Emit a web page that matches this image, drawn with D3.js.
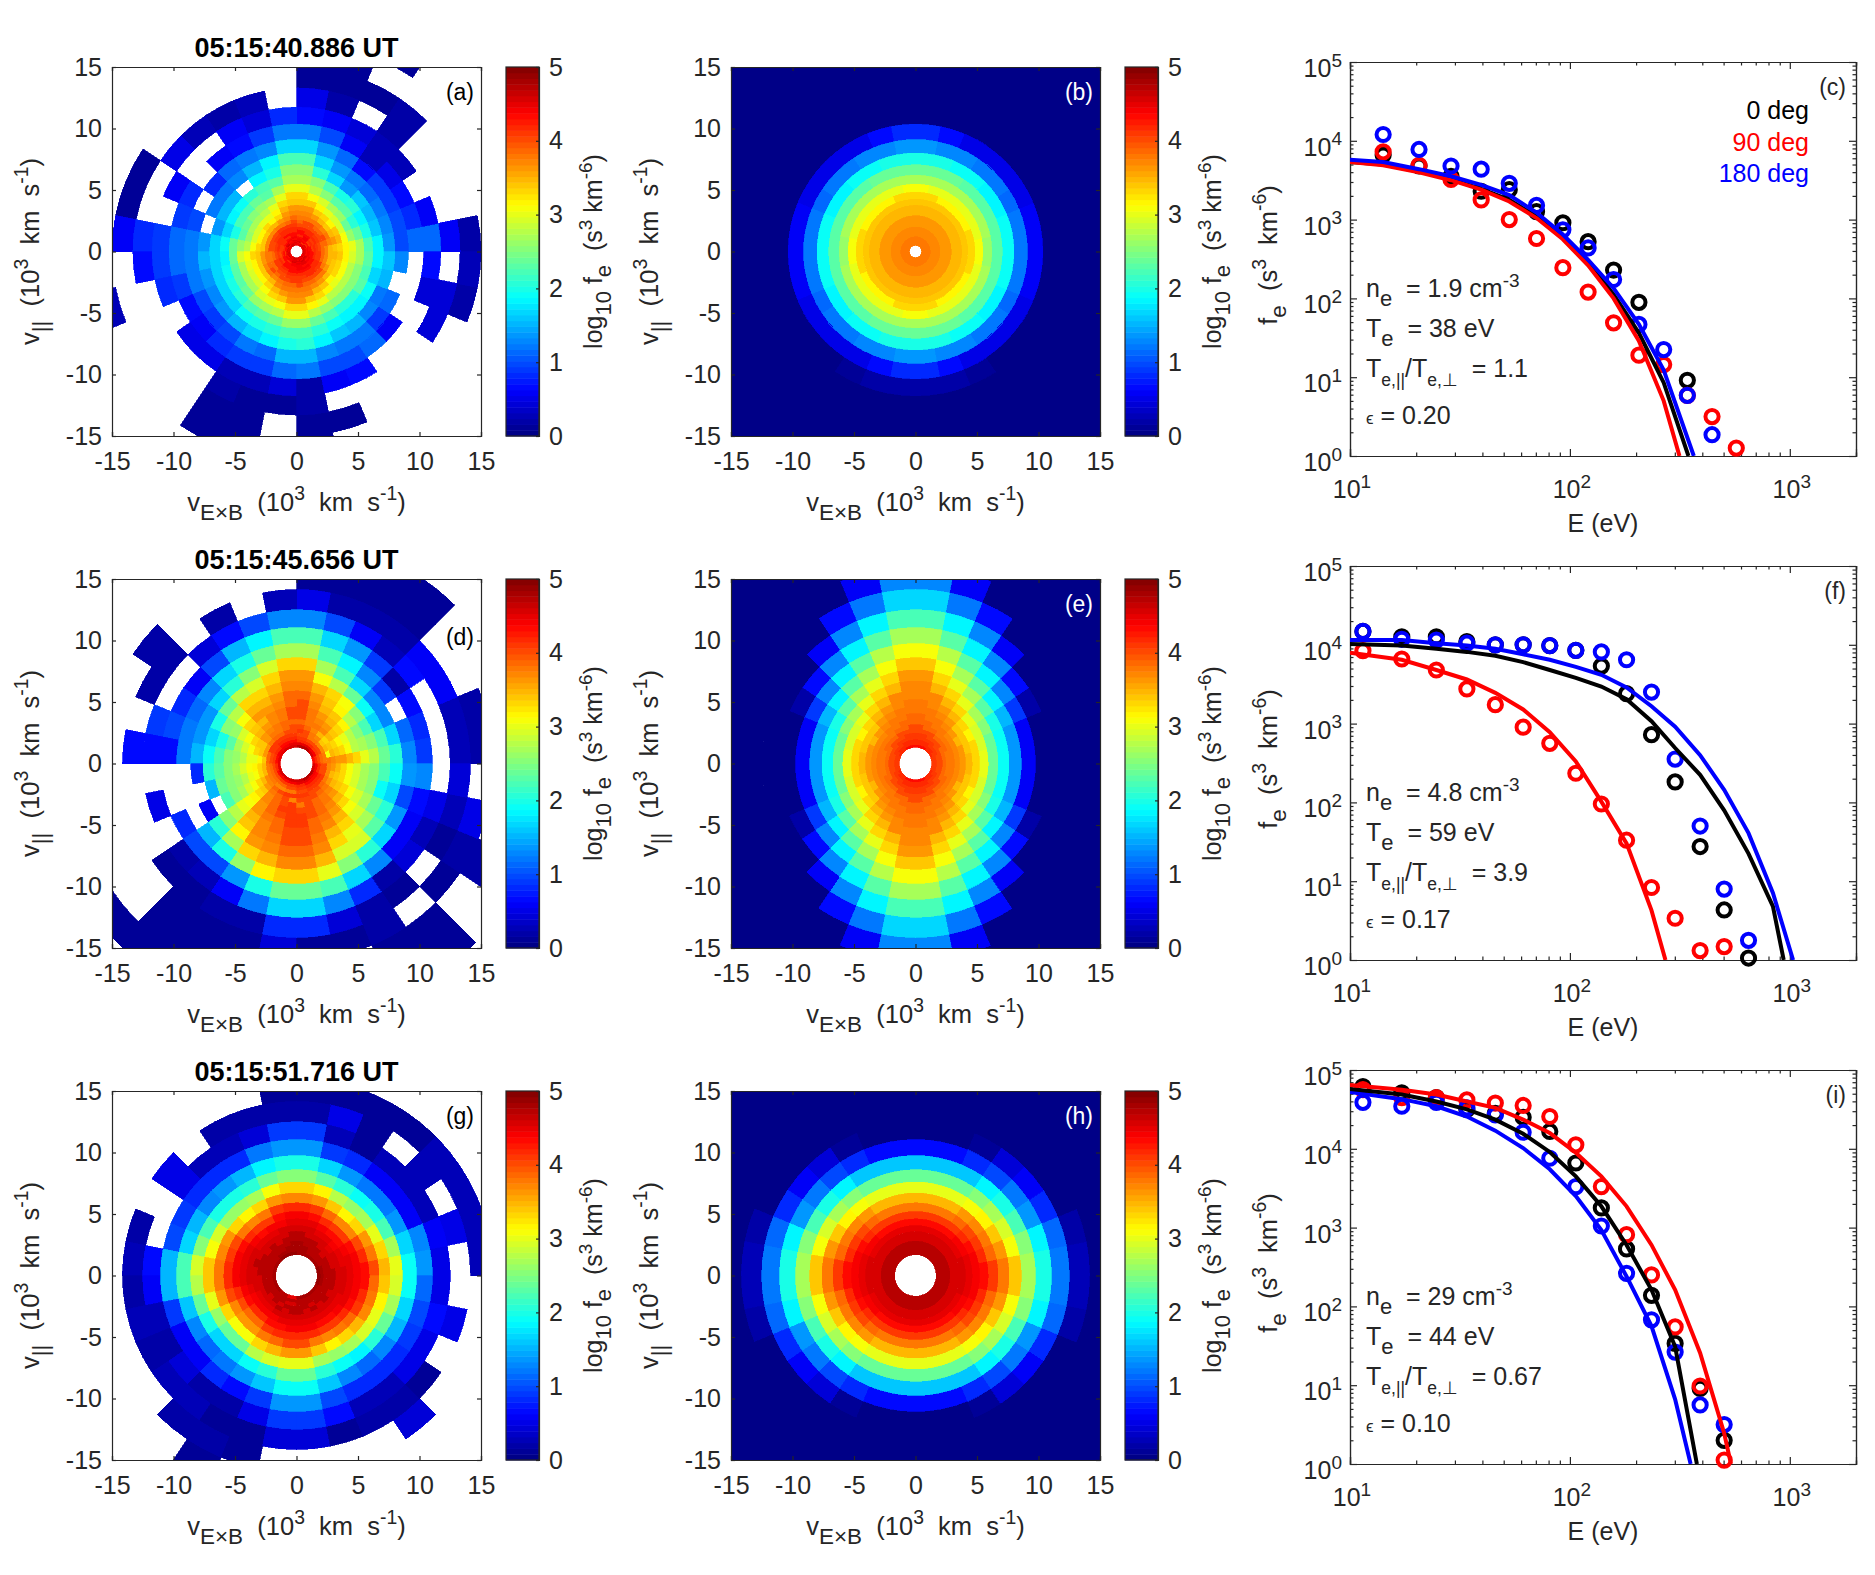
<!DOCTYPE html>
<html>
<head>
<meta charset="utf-8">
<script src="https://cdnjs.cloudflare.com/ajax/libs/d3/7.8.5/d3.min.js"></script>
<style>
body { margin: 0; background: #fff; }
text { font-family: "Liberation Sans", Arial, sans-serif; fill: #262626; white-space: pre; }
.axis path, .axis line { stroke: #262626; stroke-width: 1.2px; }
.axis text { font-size: 25px; fill: #262626; }
</style>
</head>
<body>
<div id="chart"></div>
<script>
const _ = null;

// ring edges of the energy table, in 10^3 km/s
const edgesA = [21.9,19.3,17,15,13.3,11.73,10.35,9.1,8,7.05,6.2,5.47,4.82,4.25,3.75,3.3,2.91,2.56,2.26,1.99,1.75,1.54,1.36,1.2,1.06,.93,.82,.72,.64,.56,.5];
const edgesB = [23.4,20.6,18.2,16,14.15,12.5,11.05,9.75,8.6,7.6,6.7,5.9,5.2,4.6,4.06,3.58,3.16,2.79,2.46,2.17,1.92,1.69,1.49,1.32];

// log10 f times ten. one row per ring, first sector starts at +x and goes counter clockwise
const cellsA = [
[_],
[_,_,_,_,_,1,_,_,_,_,_,_,_,_,_,_,_,_,_,_,_,_,_,_,_,_,_,_,_,_,_,_],
[_,_,_,_,_,_,1,1,_,_,_,_,_,_,_,_,_,3,_,_,_,1,1,_,1,_,_,_,_,_,_,_],
[2,_,_,_,2,1,1,1,_,_,_,_,_,1,1,6,_,_,_,_,_,1,1,_,1,1,_,_,_,_,2,3],
[6,_,_,_,2,_,2,5,_,3,2,3,5,_,_,8,7,_,_,_,_,2,1,1,2,_,_,_,_,4,4,_],
[11,6,_,3,3,4,6,7,8,4,6,_,_,6,_,9,9,8,_,5,5,3,3,4,2,6,7,_,_,_,4,7],
[11,8,7,5,3,6,10,12,12,9,7,6,_,8,9,11,11,9,7,6,8,9,9,11,12,10,10,11,6,_,_,_],
[10,10,9,9,7,11,14,17,17,13,12,11,8,_,10,12,12,12,10,9,10,12,11,15,15,13,12,12,9,11,_,13],
[14,13,12,11,12,14,17,22,22,18,15,13,12,12,_,14,15,14,13,14,15,17,18,20,21,18,16,15,13,12,15,16],
[18,16,15,16,14,17,21,25,25,20,18,_,15,15,14,17,17,17,17,17,19,20,21,22,22,21,19,18,18,19,17,18],
[22,20,18,21,20,22,25,27,27,23,22,21,19,18,17,19,18,19,20,21,22,23,24,26,26,24,22,21,21,23,22,23],
[27,24,21,23,23,25,28,30,30,27,23,24,22,22,20,24,24,23,23,24,26,27,28,30,30,28,26,25,25,25,25,27],
[30,26,24,26,27,29,31,33,33,30,27,26,25,24,23,26,29,27,27,27,29,30,31,33,33,32,30,28,28,28,28,29],
[32,31,29,29,30,32,34,34,34,33,30,28,27,27,26,28,31,30,29,29,31,33,34,36,36,34,33,32,30,31,31,32],
[33,35,34,32,33,34,36,36,36,35,32,30,30,29,29,31,33,32,32,32,33,35,36,37,37,37,35,34,32,33,33,34],
[34,36,35,34,35,36,37,37,37,36,33,32,33,32,32,33,34,34,34,34,35,37,38,38,38,38,37,36,35,34,34,35],
[35,37,38,37,38,38,38,38,39,37,36,35,35,34,34,34,36,36,37,38,37,38,39,39,40,39,39,38,38,36,35,35],
[37,39,40,39,39,40,40,39,40,39,38,38,37,37,37,37,38,38,39,40,39,40,40,41,41,40,40,40,40,38,37,37],
[39,40,40,40,41,41,40,40,38,39,40,41,41,42,41,39],
[40,41,42,42,42,42,41,40,39,41,41,42,42,42,42,41],
[41,42,42,43,42,42,42,41,40,41,42,43,43,43,42,41],
[42,41,43,43,43,43,42,42,41,42,43,43,44,44,43,42],
[41,42,44,42,43,42,42,41,40,41,43,43,44,43,43,43],
[43,41,44,43,44,43,42,41,42,43,43,44,44,45,44,43],
[43,43,43,44,43,44,43,42,43,43,42,44,45,45,43,44],
[44,42,44,44,45,43,45,43,41,44,44,46,44,46,45,44],
[43,45,42,46,44,44,46,43,45,43,44,45,46,44,46,43],
[45,44,45,43,46,45,43,46,44,46,45,45,43,46,44,45],
[45,46,44,45,44,46,45,44,46,45,44,46,45,44,46,45],
[46,45,46,44,45,46,44,45,46,44,45,46,46,45,44,46]
];
const cellsB = [
[0],[0],[0],[0],[0],
[0,0,0,0,0,0,0,0,0,0,0,0,0,0,0,0,0,0,0,0,0,1,2,2,2,2,1,0,0,0,0,0],
[6,6,5,5,5,5,7,8],
[12,12,11,12,12,13,13,14],
[19,19,18,18,19,19,20,20],
[23,23,23,23,23,24,24,24],
[26,27,27,27,27,27,27,27],
[31,30,30,30,30,30,30,31],
[33,33,32,32,32,32,33,33],
[34],[35],[35],[36],[36],[36],[37],[37],[37],[37],[38],[38],[38],[38],[38],[38],[38]
];
const cellsD = [
[_],
[_,_,_,_,_,_,_,_,_,_,_,_,_,_,_,_,_,_,_,1,1,1,_,_,_,_,_,1,_,_,_,_],
[_,_,_,_,1,1,1,_,_,_,_,_,_,_,_,_,_,_,_,_,1,1,1,_,_,_,1,1,_,2,_,_],
[2,2,_,_,1,1,1,1,_,_,_,_,2,_,_,_,_,_,_,_,1,1,1,4,1,1,2,_,1,2,5,_],
[3,3,6,6,2,2,2,5,3,_,2,_,2,2,_,7,_,_,_,1,1,2,2,8,8,4,2,1,_,1,3,4],
[_,_,_,7,3,6,10,13,13,10,7,4,_,_,9,7,_,5,_,2,3,6,12,17,17,13,8,2,4,3,5,_],
[9,8,7,2,9,14,17,22,22,18,15,10,6,8,10,7,_,_,8,10,10,14,20,24,24,22,17,13,6,6,7,13],
[13,11,_,9,13,18,22,27,27,24,20,17,13,11,12,12,_,_,_,15,20,26,32,33,33,30,25,21,17,14,10,14],
[21,17,13,13,17,22,27,33,33,29,25,21,17,14,14,15,8,_,6,21,27,33,35,37,37,35,29,29,23,21,17,19],
[24,22,17,19,24,28,31,36,36,33,29,28,24,20,17,19,21,15,_,25,32,36,37,39,39,37,33,30,27,24,19,22],
[28,25,22,25,31,33,35,37,37,35,33,33,28,25,20,22,23,24,22,28,34,37,38,40,40,38,35,33,29,27,25,25],
[30,27,25,28,32,34,36,39,39,36,35,35,31,26,23,25,25,25,25,30,35,37,39,40,40,39,37,35,31,29,27,27],
[33,28,28,32,34,35,37,40,39,37,36,36,33,29,27,26,27,26,27,31,36,38,39,41,41,39,38,36,33,31,29,29],
[35,31,30,33,35,36,38,40,40,38,37,35,34,31,29,28,29,28,29,32,36,39,40,41,41,40,39,37,35,33,31,31],
[36,33,32,34,36,37,38,40,40,38,37,36,35,33,31,30,31,30,31,33,37,39,41,41,40,40,39,38,36,34,33,33],
[36,34,33,35,37,38,38,39,39,39,38,37,36,34,33,30,32,31,33,34,37,39,40,41,38,40,39,38,37,35,34,35],
[37,35,34,33,35,37,39,40,40,39,38,38,36,34,34,32,33,33,35,36,38,39,40,37,40,40,40,39,38,36,35,36],
[38,31,35,34,37,38,40,41,40,40,39,39,38,36,36,34,35,35,37,37,39,40,41,41,41,41,40,40,39,38,37,37],
[38,37,38,40,41,41,41,39,38,38,37,38,40,41,41,40],
[39,40,40,41,42,42,41,40,39,39,39,40,41,42,42,40],
[40,41,42,42,43,43,42,41,40,40,41,41,42,43,43,42],
[42,44,45,45,45,44,44,43,42,43,43,44,45,45,44,44],
[43,46,47,47,46,46,45,45,45,46,46,46,46,47,47,46]
];
const cellsE = [
[0],[0],[0],
[0,0,0,0,0,0,6,13],
[0,0,0,0,0,7,12,17],
[0,0,0,0,6,13,18,22],
[0,0,2,7,13,18,23,27],
[6,6,9,13,18,23,28,31],
[14,14,15,18,23,27,31,34],
[19,19,20,23,27,30,33,36],
[24,24,25,27,30,33,35,37],
[30,29,29,30,33,35,37,37],
[33,33,32,33,35,36,37,38],
[35,34,34,34,36,37,38,38],
[36,36,35,36,37,38,38,39],
[37,37,37,37,38,38,39,39],
[38,38,38,38,38,39,39,40],
[38,38,39,39,39,40,40,40],
[39,39,39,40,40,40,41,41],
[40,40,40,40,41,41,41,41],
[40,40,41,41,41,42,42,42],
[41,41,41,42,42,42,42,42],
[41,41,42,42,42,43,43,43]
];
const cellsG = [
[_],[_],
[_,_,_,_,_,_,_,_,_,_,_,_,_,_,_,_,_,_,_,_,_,1,_,_,_,_,_,_,_,_,_,_],
[3,3,3,3,1,1,1,1,1,_,_,_,_,_,_,_,_,_,_,_,2,2,1,_,_,_,_,4,_,_,_,_],
[_,5,_,3,_,1,5,2,2,2,2,_,5,_,2,3,2,3,2,3,3,1,1,4,4,1,2,2,1,_,5,_],
[5,6,3,3,3,1,3,9,9,4,3,3,5,_,_,7,6,3,2,4,2,2,5,9,9,7,3,3,5,5,7,5],
[14,13,6,6,6,8,9,14,14,12,8,8,8,9,10,15,15,9,6,6,8,7,9,14,14,10,8,8,8,9,10,11],
[19,17,14,12,12,14,17,20,20,18,15,14,13,15,17,22,22,16,13,11,12,14,16,19,19,16,13,11,13,15,17,19],
[30,27,22,20,19,21,23,25,25,24,21,20,20,22,25,29,28,24,20,17,17,19,21,24,24,21,19,18,21,24,27,29],
[35,33,30,27,26,28,32,33,33,31,27,26,26,29,31,34,34,30,26,24,24,28,29,30,30,27,26,27,29,30,32,34],
[40,38,36,33,32,34,36,37,37,36,33,32,33,36,37,38,38,36,33,31,31,33,35,36,36,34,32,33,35,37,38,39],
[43,42,40,37,37,39,41,42,42,41,38,37,38,40,41,42,42,40,37,36,36,38,39,40,40,38,37,38,39,41,42,43],
[44,44,43,41,41,42,43,44,44,43,41,41,42,43,44,44,44,42,40,39,39,41,42,42,42,42,41,41,42,43,44,44],
[45,45,44,43,43,44,45,45,45,44,44,43,44,45,45,45,45,44,43,42,42,43,43,44,44,44,43,43,44,45,45,45],
[46,45,45,44,45,45,46,46,46,46,45,45,45,46,46,46,46,45,44,44,44,44,45,45,45,45,45,45,45,45,46,46],
[46,46,46,45,46,46,46,47,47,46,46,46,46,46,47,46,46,46,45,45,45,46,46,46,46,46,46,46,46,46,46,46],
[47,46,46,46,46,47,47,47,47,47,46,47,46,47,47,47,46,46,46,46,46,47,46,47,47,46,47,46,47,46,47,47],
[47,47,47,46,47,47,47,48,48,47,47,47,47,47,47,47,47,47,47,46,47,46,47,47,47,47,46,47,47,47,47,47],
[47,47,47,48,48,47,47,47,47,47,47,46,47,47,47,47],
[48,47,47,48,48,48,47,47,47,47,47,47,47,47,47,48],
[49,48,48,48,49,49,48,48,48,48,47,45,48,48,48,49]
];
const cellsH = [
[0],[0],[0],[0],
[3,2,0,0,0,0,0,0],
[12,11,8,6,4,1,0,0],
[20,18,14,12,10,8,7,7],
[27,25,22,20,18,16,16,16],
[34,31,29,27,25,24,24,24],
[38,36,34,32,31,30,30,30],
[41,39,38,37,36,35,35,35],
[43,42,41,40,39,38,38,38],
[44,44,43,42,41,41,41,41],
[45,45,44,44,43,43,43,43],
[46,46,45,45,45,45,45,45],
[46],[46],[47],[47],[47],[47]
];

// spectra: energies in eV, log10 f for the three pitch angles
const energyC = [14.15,20.6,28.8,39.5,53,70.5,92.9,121,158,206,267,342,443,571];
const pointsC = {
  black: [[14.15,3.82],[20.6,3.68],[28.8,3.55],[39.5,3.36],[53,3.38],[70.5,3.1],[92.9,2.96],[121,2.72],[158,2.36],[206,1.95],[342,.96]],
  red: [3.86,3.69,3.51,3.25,3,2.76,2.39,2.08,1.69,1.28,1.16,.77,.5,.1],
  blue: [4.08,3.89,3.68,3.64,3.46,3.18,2.87,2.64,2.24,1.67,1.35,.77,.27]
};
const lineEnergyC = [10,14.15,20.6,28.8,39.5,53,70.5,92.9,121,158,206,267];
const linesC = {
  black: {e: [...lineEnergyC,346], f: [3.73,3.7,3.61,3.51,3.39,3.25,3.04,2.77,2.45,2.05,1.56,.93,0]},
  red: {e: [...lineEnergyC,315], f: [3.73,3.69,3.6,3.5,3.38,3.23,3.02,2.75,2.42,2,1.46,.7,0]},
  blue: {e: [...lineEnergyC,366], f: [3.76,3.73,3.64,3.55,3.44,3.31,3.09,2.81,2.49,2.13,1.67,1.09,0]}
};
const energyF = [11.45,17.2,24.7,34,45.8,61.3,81,106.4,139,181,235,301,391,503,649];
const pointsF = {
  black: [4.17,4.1,4.1,4.04,4,4,3.99,3.93,3.73,3.38,2.86,2.26,1.44,.635,.025],
  red: [3.925,3.82,3.68,3.44,3.24,2.955,2.75,2.37,1.98,1.52,.92,.53,.12,.17],
  blue: [4.17,4.07,4.06,4.02,4,4,3.99,3.93,3.91,3.81,3.4,2.55,1.7,.9,.25]
};
const lineEnergyF = [10,17.2,24.7,34,45.8,61.3,81,106.4,139,181,235,301,391,503,649,838];
const linesF = {
  black: {e: [...lineEnergyF,938], f: [4.01,3.99,3.95,3.91,3.86,3.78,3.68,3.58,3.47,3.31,3.03,2.69,2.35,1.9,1.35,.68,0]},
  blue: {e: [...lineEnergyF,1035], f: [4.06,4.06,4.02,3.99,3.95,3.88,3.81,3.72,3.62,3.46,3.22,2.96,2.6,2.16,1.61,.85,0]},
  red: {e: [10,17.2,24.7,34,45.8,61.3,81,106.4,139,181,235,272], f: [3.9,3.81,3.68,3.56,3.39,3.18,2.89,2.52,2.01,1.48,.63,0]}
};
const energyI = [11.45,17.2,24.7,34,45.8,61.3,81,106.4,139,181,235,301,391,503];
const pointsI = {
  black: [4.79,4.71,4.65,4.5,4.45,4.4,4.22,3.82,3.25,2.73,2.14,1.53,.96,.3],
  red: [4.75,4.65,4.65,4.62,4.58,4.55,4.41,4.05,3.52,2.91,2.4,1.74,.99,.05],
  blue: [4.59,4.54,4.59,4.52,4.43,4.21,3.88,3.52,3.02,2.42,1.83,1.42,.75,.5]
};
const lineEnergyI = [10,17.2,24.7,34,45.8,61.3,81,106.4,139,181,235,301];
const linesI = {
  black: {e: [...lineEnergyI,378], f: [4.76,4.69,4.6,4.5,4.37,4.19,3.96,3.65,3.27,2.78,2.21,1.49,0]},
  red: {e: [...lineEnergyI,391,503,540], f: [4.81,4.75,4.69,4.6,4.52,4.37,4.2,3.95,3.65,3.27,2.78,2.21,1.41,.39,0]},
  blue: {e: [...lineEnergyI,354], f: [4.72,4.63,4.54,4.41,4.23,4.01,3.74,3.4,2.97,2.38,1.75,.82,0]}
};
const notesC = ["1.9","38","1.1","0.20"];
const notesF = ["4.8","59","3.9","0.17"];
const notesI = ["29","44","0.67","0.10"];
const legendLabels = ["0 deg","90 deg","180 deg"];
const legendColors = ["#000000","#ff0000","#0000ff"];
const timeLabels = ["05:15:40.886 UT","05:15:45.656 UT","05:15:51.716 UT"];
const vTicks = [-15,-10,-5,0,5,10,15];
const cbarTicks = [0,1,2,3,4,5];

const colMain = [112, 731], colBar = 25, polarSize = 369;
const rowTops = [67, 579, 1091], specTops = [62, 566, 1070];
const specLeft = 1350, specWidth = 506, specHeight = 394;

const svg = d3.select("#chart").append("svg")
    .attr("width", 1875)
    .attr("height", 1575);

// matlab jet with 64 levels
function jet(t) {
    let c = s => Math.max(0, Math.min(1, 1.5 - Math.abs(4 * t - s)));
    return d3.rgb(c(3) * 255, c(2) * 255, c(1) * 255).formatHex();
}
const jetLevels = d3.range(64).map(i => jet((i + 0.5) / 64));
const color = d3.scaleQuantize().domain([0, 5]).range(jetLevels);

// text with sub and superscripts
function rich(sel, parts, size) {
    let t = sel.append("text").style("font-size", size + "px");
    let shift = 0;
    parts.forEach(p => {
        let isSub = p[1] === "sub" || p[1] === "subSmall";
        let target = isSub ? size * 0.36 : p[1] === "sup" ? -size * 0.42 : 0;
        let span = t.append("tspan").attr("dy", target - shift).text(p[0]);
        if (p[1] === "sub") span.style("font-size", size * 0.88 + "px");
        if (p[1] === "subSmall") span.style("font-size", size * 0.7 + "px");
        if (p[1] === "sup") span.style("font-size", size * 0.76 + "px");
        shift = target;
    });
    return t;
}

const kmUnit = [["  (10"],["3","sup"],["  km  s"],["-1","sup"],[")"]];
const plainFormat = d => String(d);

function drawPolar(left, top, id, edges, rows, letter, letterColor, letterY, title) {
    let x = d3.scaleLinear().domain([-15, 15]).range([left, left + polarSize]);
    let y = d3.scaleLinear().domain([-15, 15]).range([top + polarSize, top]);
    let g = svg.append("g");

    g.append("clipPath").attr("id", "clip" + id).append("rect")
        .attr("x", left).attr("y", top).attr("width", polarSize).attr("height", polarSize);

    let arc = d3.arc();
    let cells = g.append("g")
        .attr("clip-path", `url(#clip${id})`)
        .append("g")
        .attr("transform", `translate(${x(0)},${y(0)})`);

    rows.forEach((row, i) => {
        let full = row;
        if (row.length === 8) {
            // model rows hold one quarter, the fit is mirror symmetric
            let back = row.slice().reverse();
            full = [...row, ...back, ...row, ...back];
        }
        let step = 2 * Math.PI / full.length;
        full.forEach((v, k) => {
            if (v === null) return;
            cells.append("path")
                .attr("d", arc({
                    innerRadius: x(edges[i + 1]) - x(0),
                    outerRadius: x(edges[i]) - x(0),
                    startAngle: Math.PI / 2 - k * step,
                    endAngle: Math.PI / 2 - (k + 1) * step
                }))
                .attr("fill", color(v / 10))
                .attr("stroke", color(v / 10))
                .attr("stroke-width", 0.7)
                .attr("shape-rendering", "crispEdges");
        });
    });

    g.append("g").attr("class", "axis").attr("transform", `translate(0,${top + polarSize})`)
        .call(d3.axisBottom(x).tickValues(vTicks).tickSize(-4).tickPadding(16).tickFormat(plainFormat));
    g.append("g").attr("class", "axis").attr("transform", `translate(${left},0)`)
        .call(d3.axisLeft(y).tickValues(vTicks).tickSize(-4).tickPadding(10).tickFormat(plainFormat));
    g.append("g").attr("class", "axis").attr("transform", `translate(0,${top})`)
        .call(d3.axisTop(x).tickValues(vTicks).tickSize(-4).tickFormat(""));
    g.append("g").attr("class", "axis").attr("transform", `translate(${left + polarSize},0)`)
        .call(d3.axisRight(y).tickValues(vTicks).tickSize(-4).tickFormat(""));
    g.selectAll(".domain").attr("fill", "none");

    // x label
    rich(g, [["v"],["E\u00D7B","sub"],...kmUnit], 25.5)
        .attr("transform", `translate(${left + polarSize / 2},${top + polarSize + 75})`)
        .attr("text-anchor", "middle");
    // y label
    rich(g, [["v"],["||","sub"],...kmUnit], 25.5)
        .attr("transform", `translate(${left - 73},${top + polarSize / 2}) rotate(-90)`)
        .attr("text-anchor", "middle");

    g.append("text")
        .attr("x", left + polarSize - 7)
        .attr("y", top + letterY)
        .attr("text-anchor", "end")
        .style("font-size", "23px")
        .style("fill", letterColor)
        .text(letter);

    if (title) {
        g.append("text")
            .attr("x", left + polarSize / 2)
            .attr("y", top - 10)
            .attr("text-anchor", "middle")
            .style("font-size", "27px")
            .style("font-weight", "bold")
            .style("fill", "#000")
            .text(title);
    }

    // colorbar
    let barLeft = left + polarSize + colBar;
    let barWidth = 33;
    let cy = d3.scaleLinear().domain([0, 5]).range([top + polarSize, top]);
    let level = polarSize / 64;
    g.selectAll(".level").data(jetLevels).enter().append("rect")
        .attr("x", barLeft)
        .attr("y", (d, i) => cy(5 * (i + 1) / 64))
        .attr("width", barWidth)
        .attr("height", level + 0.5)
        .attr("fill", d => d);
    g.append("rect").attr("x", barLeft).attr("y", top).attr("width", barWidth).attr("height", polarSize)
        .attr("fill", "none").attr("stroke", "#262626").attr("stroke-width", 1.2);
    g.append("g").attr("class", "axis").attr("transform", `translate(${barLeft + barWidth},0)`)
        .call(d3.axisRight(cy).tickValues(cbarTicks).tickSize(-3).tickPadding(10).tickFormat(plainFormat))
        .select(".domain").attr("fill", "none");

    rich(g, [["log"],["10","sub"],[" f"],["e","sub"],["  (s"],["3","sup"],[" km"],["-6","sup"],[")"]], 25)
        .attr("transform", `translate(${barLeft + barWidth + 63},${top + polarSize / 2}) rotate(-90)`)
        .attr("text-anchor", "middle");
}

function drawSpectrum(top, id, energy, points, lines, order, notes, letter) {
    let x = d3.scaleLog().domain([10, 2000]).range([specLeft, specLeft + specWidth]);
    let y = d3.scaleLog().domain([1, 1e5]).range([top + specHeight, top]);
    let g = svg.append("g");

    let minorX = [20,30,40,50,60,70,80,90,200,300,400,500,600,700,800,900,2000];
    let minorY = [];
    [1,10,100,1000,10000].forEach(d => d3.range(2, 10).forEach(m => minorY.push(d * m)));
    let majorX = [10,100,1000], majorY = [1,10,100,1000,10000,100000];

    // minor ticks first, then the major ones on all four sides
    [[minorX, minorY, -3.5], [majorX, majorY, -7]].forEach(t => {
        g.append("g").attr("class", "axis").attr("transform", `translate(0,${top + specHeight})`)
            .call(d3.axisBottom(x).tickValues(t[0]).tickSize(t[2]).tickFormat(""));
        g.append("g").attr("class", "axis").attr("transform", `translate(0,${top})`)
            .call(d3.axisTop(x).tickValues(t[0]).tickSize(t[2]).tickFormat(""));
        g.append("g").attr("class", "axis").attr("transform", `translate(${specLeft},0)`)
            .call(d3.axisLeft(y).tickValues(t[1]).tickSize(t[2]).tickFormat(""));
        g.append("g").attr("class", "axis").attr("transform", `translate(${specLeft + specWidth},0)`)
            .call(d3.axisRight(y).tickValues(t[1]).tickSize(t[2]).tickFormat(""));
    });
    g.selectAll(".domain").attr("fill", "none");

    majorX.forEach((d, i) => {
        rich(g, [["10"],[String(i + 1),"sup"]], 25)
            .attr("transform", `translate(${x(d) + 2},${top + specHeight + 42})`)
            .attr("text-anchor", "middle");
    });
    majorY.forEach((d, i) => {
        rich(g, [["10"],[String(i),"sup"]], 25)
            .attr("transform", `translate(${specLeft - 8},${y(d) + 15})`)
            .attr("text-anchor", "end");
    });

    rich(g, [["E (eV)"]], 25)
        .attr("transform", `translate(${x(10) + 253},${top + specHeight + 76})`)
        .attr("text-anchor", "middle");
    rich(g, [["f"],["e","sub"],["  (s"],["3","sup"],["  km"],["-6","sup"],[")"]], 25.5)
        .attr("transform", `translate(${specLeft - 73},${top + specHeight / 2 - 4}) rotate(-90)`)
        .attr("text-anchor", "middle");

    let names = ["black", "red", "blue"];
    let hex = {black: legendColors[0], red: legendColors[1], blue: legendColors[2]};

    names.forEach(name => {
        let vals = points[name];
        // black in the first panel skips one channel, so it holds its own energies
        let pairs = Array.isArray(vals[0]) ? vals : vals.map((v, i) => [energy[i], v]);
        g.selectAll(".pt" + name).data(pairs).enter().append("circle")
            .attr("cx", d => x(d[0]))
            .attr("cy", d => y(Math.pow(10, d[1])))
            .attr("r", 6.6)
            .attr("fill", "none")
            .attr("stroke", hex[name])
            .attr("stroke-width", 4);
    });

    g.append("clipPath").attr("id", "spec" + id).append("rect")
        .attr("x", specLeft).attr("y", top).attr("width", specWidth).attr("height", specHeight);
    let line = d3.line().x(d => x(d[0])).y(d => y(Math.pow(10, d[1])));
    order.forEach(name => {
        let l = lines[name];
        g.append("path")
            .datum(l.e.map((e, i) => [e, l.f[i]]))
            .attr("clip-path", `url(#spec${id})`)
            .attr("d", line)
            .attr("fill", "none")
            .attr("stroke", hex[name])
            .attr("stroke-width", 4);
    });

    // fit parameters
    let noteX = specLeft + 16;
    rich(g, [["n"],["e","sub"],["  = " + notes[0] + " cm"],["-3","sup"]], 25)
        .attr("transform", `translate(${noteX},${top + 235})`);
    rich(g, [["T"],["e","sub"],["  = " + notes[1] + " eV"]], 25)
        .attr("transform", `translate(${noteX},${top + 275})`);
    rich(g, [["T"],["e,||","subSmall"],["/T"],["e,\u22A5","subSmall"],["  = " + notes[2]]], 25)
        .attr("transform", `translate(${noteX},${top + 315})`);
    let eps = g.append("text").attr("x", noteX).attr("y", top + 362).style("font-size", "25px");
    eps.append("tspan").style("font-size", "17px").text("\u03F5");
    eps.append("tspan").text(" = " + notes[3]);

    g.append("text")
        .attr("x", specLeft + specWidth - 10)
        .attr("y", top + 33)
        .attr("text-anchor", "end")
        .style("font-size", "23px")
        .text(letter);
}

drawPolar(colMain[0], rowTops[0], "a", edgesA, cellsA, "(a)", "#000", 33, timeLabels[0]);
drawPolar(colMain[1], rowTops[0], "b", edgesA, cellsB, "(b)", "#fff", 33);
drawPolar(colMain[0], rowTops[1], "d", edgesB, cellsD, "(d)", "#000", 66, timeLabels[1]);
drawPolar(colMain[1], rowTops[1], "e", edgesB, cellsE, "(e)", "#fff", 33);
drawPolar(colMain[0], rowTops[2], "g", edgesB, cellsG, "(g)", "#000", 33, timeLabels[2]);
drawPolar(colMain[1], rowTops[2], "h", edgesB, cellsH, "(h)", "#fff", 33);

drawSpectrum(specTops[0], "c", energyC, pointsC, linesC, ["black","red","blue"], notesC, "(c)");
drawSpectrum(specTops[1], "f", energyF, pointsF, linesF, ["black","blue","red"], notesF, "(f)");
drawSpectrum(specTops[2], "i", energyI, pointsI, linesI, ["blue","black","red"], notesI, "(i)");

legendLabels.forEach((d, i) => {
    svg.append("text")
        .attr("x", specLeft + 459)
        .attr("y", specTops[0] + 57 + i * 31.5)
        .attr("text-anchor", "end")
        .style("font-size", "25px")
        .style("fill", legendColors[i])
        .text(d);
});
</script>
</body>
</html>
